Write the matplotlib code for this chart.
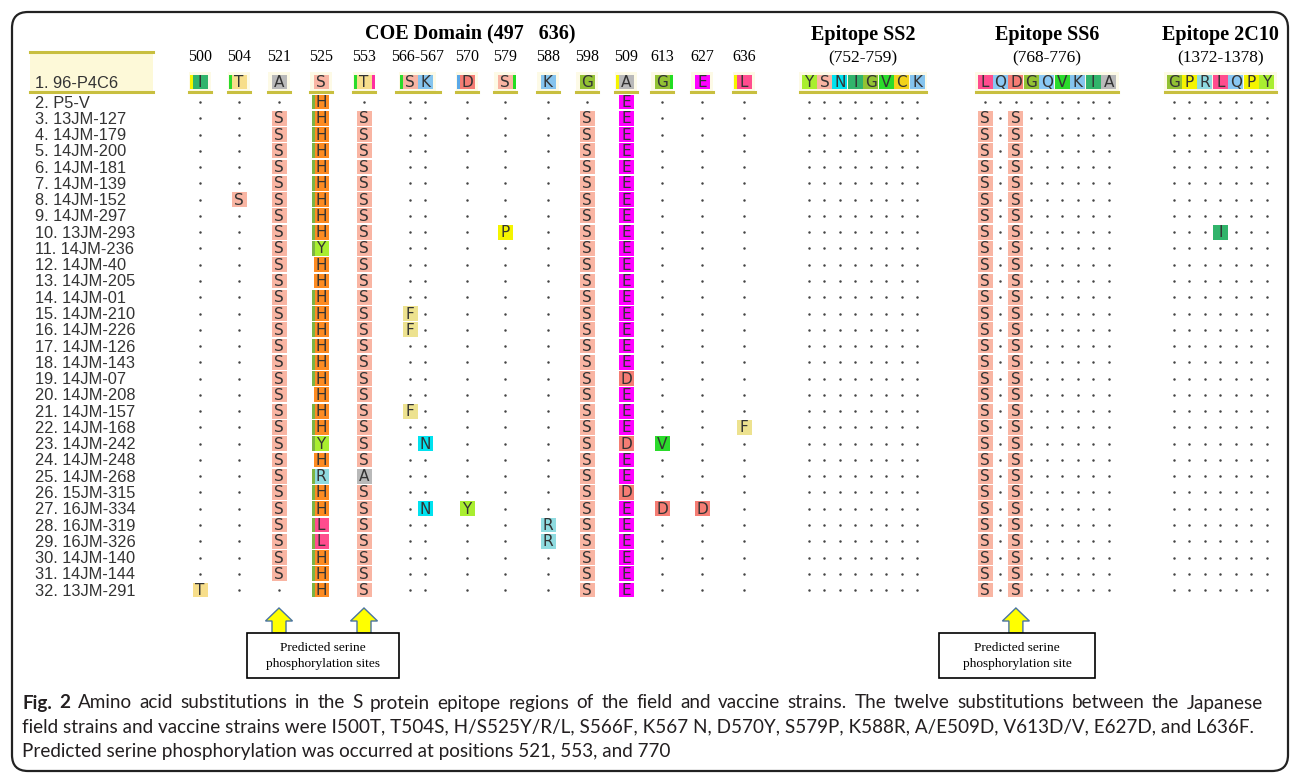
import matplotlib
matplotlib.use("Agg")
import matplotlib.pyplot as plt
from matplotlib.patches import Rectangle, FancyBboxPatch, FancyArrow

# ---- data -------------------------------------------------------------
# row 1 is the reference strain, the rest are compared against it
strains = ["96-P4C6", "P5-V", "13JM-127", "14JM-179", "14JM-200", "14JM-181", "14JM-139",
           "14JM-152", "14JM-297", "13JM-293", "14JM-236", "14JM-40", "14JM-205", "14JM-01",
           "14JM-210", "14JM-226", "14JM-126", "14JM-143", "14JM-07", "14JM-208", "14JM-157",
           "14JM-168", "14JM-242", "14JM-248", "14JM-268", "15JM-315", "16JM-334", "16JM-319",
           "16JM-326", "14JM-140", "14JM-144", "13JM-291"]

# COE domain residues
coe_pos = ["500", "504", "521", "525", "553", "566", "567", "570", "579", "588", "598", "509", "613", "627", "636"]
coe_heads = ["500", "504", "521", "525", "553", "566-567", "570", "579", "588", "598", "509", "613", "627", "636"]
coe_ref = "ITASTSKDSKGAGEL"
# one string per residue, rows 2..32 in groups of five ('.' = same as ref)
coe_sub = [
    "..... ..... ..... ..... ..... ..... T",  # 500
    "..... .S... ..... ..... ..... ..... .",  # 504
    ".SSSS SSSSS SSSSS SSSSS SSSSS SSSSS .",  # 521
    "HHHHH HHHHY HHHHH HHHHH HYHRH HLLHH H",  # 525
    ".SSSS SSSSS SSSSS SSSSS SSSAS SSSSS S",  # 553
    "..... ..... ...FF ....F ..... ..... .",  # 566
    "..... ..... ..... ..... .N... N.... .",  # 567
    "..... ..... ..... ..... ..... Y.... .",  # 570
    "..... ...P. ..... ..... ..... ..... .",  # 579
    "..... ..... ..... ..... ..... .RR.. .",  # 588
    ".SSSS SSSSS SSSSS SSSSS SSSSS SSSSS S",  # 598
    "EEEEE EEEEE EEEEE EEDEE EDEED EEEEE E",  # 509
    "..... ..... ..... ..... .V... D.... .",  # 613
    "..... ..... ..... ..... ..... D.... .",  # 627
    "..... ..... ..... ..... F.... ..... .",  # 636
]
# rows where the 525 cell carries the green edge
h525_edge = "||||| ||||| ..||| |||.| ||.|| ||||| |"

ss2_ref = "YSNIGVCK"
ss2_sub = ["..... ..... ..... ..... ..... ..... ."] * 8

ss6_ref = "LQDGQVKIA"
ss6_sub = [".SSSS SSSSS SSSSS SSSSS SSSSS SSSSS S",
           "..... ..... ..... ..... ..... ..... .",
           ".SSSS SSSSS SSSSS SSSSS SSSSS SSSSS S"] + ["..... ..... ..... ..... ..... ..... ."] * 6

c10_ref = "GPRLQPY"
c10_sub = ["..... ..... ..... ..... ..... ..... ."] * 3 + \
          ["..... ...I. ..... ..... ..... ..... ."] + \
          ["..... ..... ..... ..... ..... ..... ."] * 3

groups = [("Epitope SS2", "(752-759)", ss2_ref, ss2_sub),
          ("Epitope SS6", "(768-776)", ss6_ref, ss6_sub),
          ("Epitope 2C10", "(1372-1378)", c10_ref, c10_sub)]

caption = ["Amino acid substitutions in the S protein epitope regions of the field and vaccine strains. The twelve substitutions between the Japanese",
           "field strains and vaccine strains were I500T, T504S, H/S525Y/R/L, S566F, K567 N, D570Y, S579P, K588R, A/E509D, V613D/V, E627D, and L636F.",
           "Predicted serine phosphorylation was occurred at positions 521, 553, and 770"]

aa_colors = {"S": "#f9b5a3", "H": "#fd8b22", "E": "#ff00ff", "D": "#f57d74", "Y": "#a9ee30",
             "R": "#8fdbe0", "L": "#ff4d8e", "A": "#b9b9b9", "T": "#f7de8b", "F": "#ede28f",
             "N": "#00e2ef", "V": "#2bdb2b", "P": "#f4f400", "I": "#31b46b", "G": "#93c233",
             "K": "#85c4ee", "Q": "#8ac8f4", "C": "#f2d21a"}

# ---- layout -----------------------------------------------------------
coe_x = [200, 239, 279, 321, 364, 410, 425, 467, 505, 548, 587, 626, 662, 702, 744]
grp_x0 = [809, 985, 1174]
grp_dx = 15.45
row0_y = 82
row1_y = 102
row_dy = 16.27
cw, ch = 15, 14.8

fig = plt.figure(figsize=(12.92, 7.76), dpi=100)
ax = fig.add_axes([0, 0, 1, 1])
ax.set_xlim(0, 1292)
ax.set_ylim(776, 0)
ax.axis("off")

olive = "#c8bf3f"
txt_col = "#333333"
dots_x, dots_y = [], []


def row_y(i):
    if i == 0:
        return row0_y
    return row1_y + (i - 1) * row_dy


def cell(x, y, aa):
    ax.add_patch(Rectangle((x - cw / 2, y - ch / 2), cw, ch, color=aa_colors[aa], lw=0, zorder=2))
    ax.text(x, y + 0.5, aa, ha="center", va="center", fontsize=11, color=txt_col,
            family="DejaVu Sans", zorder=3)


def column(x, ref, sub):
    sub = sub.replace(" ", "")
    cell(x, row0_y, ref)
    for i, aa in enumerate(sub):
        y = row_y(i + 1)
        if aa == ".":
            dots_x.append(x)
            dots_y.append(y)
        else:
            cell(x, y, aa)


# outer frame
ax.add_patch(FancyBboxPatch((12, 12), 1276, 759, boxstyle="round,pad=0,rounding_size=16",
                            fc="none", ec="#222222", lw=1.6))

# row labels
ax.add_patch(Rectangle((30, 52), 123, 40, color="#fdf9d8", lw=0, zorder=1))
ax.plot([30, 153], [52, 52], color=olive, lw=2.2)
ax.plot([30, 153], [92, 92], color=olive, lw=2.2)
for i, name in enumerate(strains):
    ax.text(35, row_y(i) + 1, "%d. %s" % (i + 1, name), fontsize=11.8, family="Liberation Sans",
            color=txt_col, va="center", ha="left")

# COE domain
ax.text(470, 33, "COE Domain (497   636)", fontsize=14.5, fontweight="bold",
        family="Liberation Serif", ha="center", va="center")
head_x = coe_x[:5] + [(coe_x[5] + coe_x[6]) / 2] + coe_x[7:]
for hx, lab in zip(head_x, coe_heads):
    ax.text(hx, 57, lab, fontsize=11.5, family="Liberation Serif", ha="center", va="center")
for k in range(len(coe_pos)):
    ax.add_patch(Rectangle((coe_x[k] - 11, 72), 22, 19, color="#fdfae6", lw=0, zorder=1))
    column(coe_x[k], coe_ref[k], coe_sub[k])
# underline the reference cells
for hx, lab in zip(head_x, coe_heads):
    half = 22 if "-" in lab else 11
    ax.plot([hx - half, hx + half], [91.5, 91.5], color=olive, lw=2.2, zorder=3)

# green edge on the 525 column
for i, e in enumerate(h525_edge.replace(" ", "")):
    if e == "|":
        y = row_y(i + 1)
        ax.add_patch(Rectangle((coe_x[3] - cw / 2 - 1.5, y - ch / 2), 3, ch, color="#7db443", lw=0, zorder=3))

# a few coloured edges on the reference cells
ref_edges = [(0, -1, "#f5f500"), (1, -1, "#2bdb2b"), (4, -1, "#2bdb2b"), (4, 1, "#ff2fa0"),
             (5, -1, "#2bdb2b"), (7, -1, "#5aa8e8"), (8, 1, "#22dd22"), (11, -1, "#f5f500"),
             (12, 1, "#22dd22"), (14, -1, "#f5f500")]
for k, side, col in ref_edges:
    ex = coe_x[k] + side * (cw / 2) - (3 if side < 0 else 0)
    ax.add_patch(Rectangle((ex, row0_y - ch / 2), 3, ch, color=col, lw=0, zorder=3))

# epitope groups
for g, (title, rng, ref, subs) in enumerate(groups):
    xs = [grp_x0[g] + j * grp_dx for j in range(len(ref))]
    cx = (xs[0] + xs[-1]) / 2
    ax.text(cx, 35, title, fontsize=14.5, fontweight="bold", family="Liberation Serif",
            ha="center", va="center")
    ax.text(cx, 58, rng, fontsize=12.5, family="Liberation Serif", ha="center", va="center")
    ax.add_patch(Rectangle((xs[0] - 10, 72), xs[-1] - xs[0] + 20, 19, color="#fdfae6", lw=0, zorder=1))
    for j in range(len(ref)):
        column(xs[j], ref[j], subs[j])
    ax.plot([xs[0] - 9, xs[-1] + 9], [91.5, 91.5], color=olive, lw=2.2, zorder=3)

ax.scatter(dots_x, dots_y, s=3.2, color="#444444", lw=0, zorder=3)

# phosphorylation arrows and boxes
for x in [coe_x[2], coe_x[4], grp_x0[1] + 2 * grp_dx]:
    ax.add_patch(FancyArrow(x, 633, 0, -25, width=14, head_width=27, head_length=13,
                            length_includes_head=True, fc="#ffff00", ec="#4a74a0", lw=1, zorder=4))
for bx, bw, txt in [(247, 152, "Predicted serine\nphosphorylation sites"),
                    (939, 156, "Predicted serine\nphosphorylation site")]:
    ax.add_patch(Rectangle((bx, 633), bw, 45, fc="white", ec="black", lw=1.2, zorder=4))
    ax.text(bx + bw / 2, 656, txt, fontsize=9.6, family="Liberation Serif", ha="center",
            va="center", linespacing=1.35, zorder=5)

# caption: size from the last (unjustified) line, first line justified to full width
cap_font = "Lato"
cap_col = "#231f20"
cap_y = [703, 727, 751]
cap_x0, cap_x1 = 22, 1263
r = fig.canvas.get_renderer()
t3 = ax.text(cap_x0, cap_y[2], caption[2], fontsize=12, family=cap_font, va="center",
             ha="left", color=cap_col)
fs = 12 * (667 - cap_x0) / t3.get_window_extent(r).width
t3.set_fontsize(fs)
ax.text(cap_x0, cap_y[1], caption[1], fontsize=fs, family=cap_font, va="center", ha="left", color=cap_col)

words = [("Fig.", "bold"), ("2", "bold")] + [(w, "normal") for w in caption[0].split()]
wt = [ax.text(0, cap_y[0], w, fontsize=fs, fontweight=b, family=cap_font, va="center",
              ha="left", color=cap_col) for w, b in words]
widths = [t.get_window_extent(r).width for t in wt]
gap = (cap_x1 - cap_x0 - sum(widths)) / (len(wt) - 1)
x = cap_x0
for t, w in zip(wt, widths):
    t.set_x(x)
    x += w + gap

fig.savefig("out.png", dpi=100)
